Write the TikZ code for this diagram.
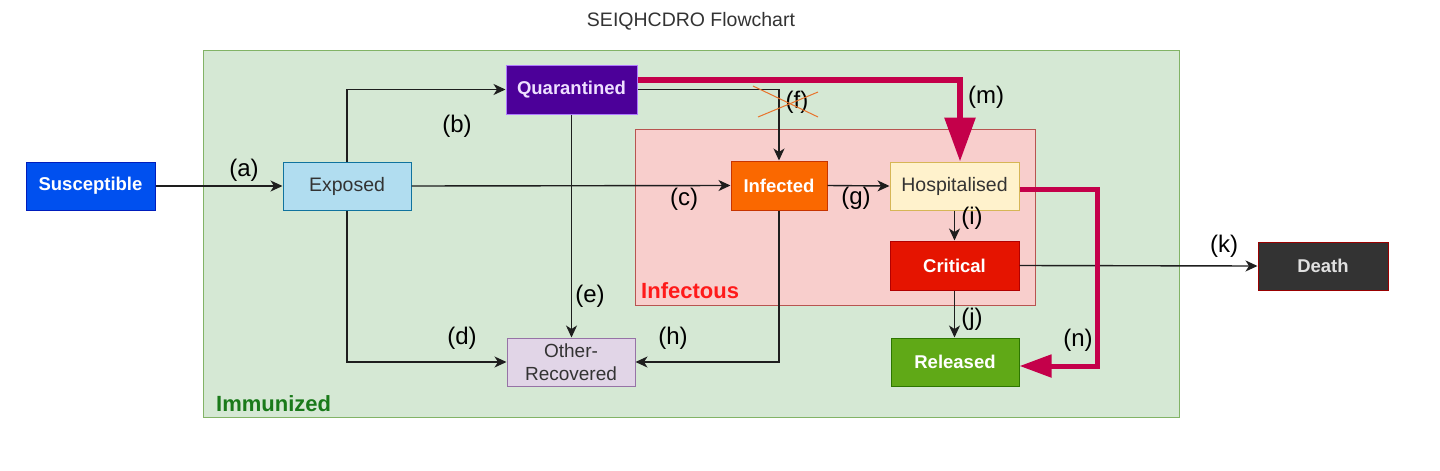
\documentclass[tikz,border=0pt]{standalone}
\usepackage{fontspec}
\setmainfont{Liberation Sans}
\usetikzlibrary{arrows.meta}
\definecolor{immfill}{HTML}{D5E8D4}
\definecolor{immline}{HTML}{82B366}
\definecolor{immtext}{HTML}{1A7A1A}
\definecolor{inffill}{HTML}{F8CECC}
\definecolor{infline}{HTML}{B85450}
\definecolor{inftext}{HTML}{FF1A1A}
\definecolor{susfill}{HTML}{0050EF}
\definecolor{susline}{HTML}{001DBC}
\definecolor{expfill}{HTML}{B1DDF0}
\definecolor{expline}{HTML}{10739E}
\definecolor{quafill}{HTML}{4C0099}
\definecolor{qualine}{HTML}{B07AFF}
\definecolor{quatext}{HTML}{EEE0FF}
\definecolor{infdfill}{HTML}{FA6800}
\definecolor{infdline}{HTML}{C73500}
\definecolor{hosfill}{HTML}{FFF2CC}
\definecolor{hosline}{HTML}{D6B656}
\definecolor{crifill}{HTML}{E51400}
\definecolor{criline}{HTML}{B20000}
\definecolor{relfill}{HTML}{60A917}
\definecolor{relline}{HTML}{2D7600}
\definecolor{deafill}{HTML}{333333}
\definecolor{dealine}{HTML}{990000}
\definecolor{othfill}{HTML}{E1D5E7}
\definecolor{othline}{HTML}{9673A6}
\definecolor{darktext}{HTML}{333333}
\definecolor{connc}{HTML}{1E1E1E}
\definecolor{redflow}{HTML}{C4004A}
\definecolor{crossc}{HTML}{E8722A}
\begin{document}
\begin{tikzpicture}[x=1pt,y=-1pt,
  box/.style={draw, line width=1pt, inner sep=0pt, align=center},
  boldbox/.style={box, text=white, font=\fontsize{18.5}{22}\selectfont\bfseries},
  plainbox/.style={box, text=darktext, font=\fontsize{19.5}{23}\selectfont},
  conn/.style={draw=connc, line width=1.4pt, -{Stealth[length=12pt,width=11pt,inset=3.5pt]}},
  redc/.style={draw=redflow, line width=6pt},
  lab/.style={inner sep=0pt, text=black, font=\fontsize{24}{28}\selectfont}]
\path[use as bounding box] (0,0) rectangle (1440,471);
% title
\node[anchor=base, text=darktext, font=\fontsize{19.5}{23}\selectfont] (title) at (691,26) {SEIQHCDRO Flowchart};
% containers
\draw[fill=immfill, draw=immline, line width=1pt] (203,50) rectangle (1179,417);
\draw[fill=inffill, draw=infline, line width=1pt] (635,129) rectangle (1035,305);
\node[anchor=base west, inner sep=0pt, text=immtext, font=\fontsize{22}{26}\selectfont\bfseries] (immlab) at (216,411) {Immunized};
\node[anchor=base west, inner sep=0pt, text=inftext, font=\fontsize{22}{26}\selectfont\bfseries] (inflab) at (641,298) {Infectous};
% nodes
\node[boldbox, fill=susfill, draw=susline, minimum width=129pt, minimum height=48pt] (S) at (90.5,186) {Susceptible};
\node[plainbox, fill=expfill, draw=expline, minimum width=128pt, minimum height=48pt] (E) at (347,186) {Exposed};
\node[boldbox, fill=quafill, draw=qualine, text=quatext, minimum width=131pt, minimum height=49pt] (Q) at (571.5,89.5) {Quarantined};
\node[boldbox, fill=infdfill, draw=infdline, minimum width=96pt, minimum height=49pt] (I) at (779,185.5) {Infected};
\node[plainbox, fill=hosfill, draw=hosline, minimum width=129pt, minimum height=48pt] (H) at (954.5,186) {Hospitalised};
\node[boldbox, fill=crifill, draw=criline, minimum width=129pt, minimum height=49pt] (C) at (954.5,265.5) {Critical};
\node[boldbox, fill=relfill, draw=relline, minimum width=128pt, minimum height=48pt] (R) at (955,362) {Released};
\node[boldbox, fill=deafill, draw=dealine, text=white!88!black, minimum width=130pt, minimum height=48pt] (D) at (1323,266) {Death};
\node[plainbox, fill=othfill, draw=othline, minimum width=128pt, minimum height=48pt, font=\fontsize{19}{23}\selectfont] (O) at (571,362) {Other-\\Recovered};
% black connectors
\draw[conn] (S.east) -- (E.west);
\draw[conn] (E.north) |- (Q.west);
\draw[conn] (E.east) -- (I.west);
\draw[conn] (E.south) |- (O.west);
\draw[conn] (Q.south) -- (Q.south |- O.north);
\draw[conn] (Q.east) -| (I.north);
\draw[conn] (I.east) -- (H.west);
\draw[conn] (I.south) |- (O.east);
\draw[conn] (H.south) -- (C.north);
\draw[conn] (C.south) -- (C.south |- R.north);
\draw[conn] (C.east) -- (D.west);
% red flows
\draw[redc, -{Triangle[length=44pt,width=30pt]}] ([yshift=9.5pt]Q.east) -| ([xshift=5.5pt]H.north);
\draw[redc, line width=5pt, -{Triangle[length=32pt,width=22pt]}] ([yshift=-3pt]H.east) -- ++(78,0) |- ([yshift=-4pt]R.east);
% labels
\node[lab] (la) at (244,170) {(a)};
\node[lab] (lb) at (457,126) {(b)};
\node[lab] (lc) at (684,199) {(c)};
\node[lab] (ld) at (462,338) {(d)};
\node[lab] (le) at (590,296) {(e)};
\node[lab] (lf) at (797,102) {(f)};
\node[lab] (lg) at (856,198) {(g)};
\node[lab] (lh) at (673,338) {(h)};
\node[lab] (li) at (972,218) {(i)};
\node[lab] (lj) at (972,319) {(j)};
\node[lab] (lk) at (1224,246) {(k)};
\node[lab] (lm) at (986,97) {(m)};
\node[lab] (ln) at (1078,340) {(n)};
% cross over (f)
\draw[crossc, line width=1pt] (753,86) -- (818,117);
\draw[crossc, line width=1pt] (758,117) -- (818,92);
\end{tikzpicture}
\end{document}
